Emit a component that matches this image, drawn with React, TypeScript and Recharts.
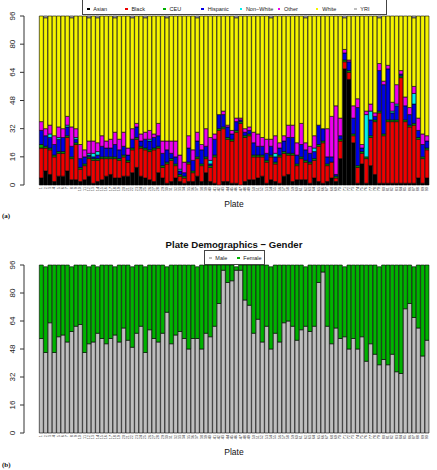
import React from 'react';
import { BarChart, Bar, XAxis, YAxis } from 'recharts';

// plate ids along the x axis
const plates = [
  '1', '2', '3', '4', '5', '6', '7', '8', '9', '10',
  '11', '12', '13', '14', '15', '16', '17', '18', '19', '20',
  '21', '22', '23', '24', '25', '26', '27', '28', '29', '30',
  '31', '32', '33', '34', '35', '36', '37', '38', '39', '40',
  '41', '42', '43', '44', '45', '46', '47', '48', '49', '50',
  '51', '52', '53', '54', '55', '56', '57', '58', '59', '60',
  '61', '62', '63', '64', '65', '66', '67', '68', '69', '70',
  '71', '72', '73', '74', '75', '76', '77', '78', '79', '80',
  '81', '82', '83', '84', '85', '86', '87', '88', '89', '90',
];

// samples per plate by reported ethnicity
const asian = [
  4, 8, 6, 2, 5, 5, 8, 3, 3, 2,
  3, 5, 1, 2, 3, 5, 6, 4, 4, 5,
  5, 7, 10, 5, 4, 3, 2, 7, 4, 1,
  2, 4, 2, 1, 2, 2, 5, 2, 7, 2,
  1, 0, 2, 2, 1, 1, 0, 2, 3, 3,
  4, 5, 1, 3, 2, 1, 5, 6, 2, 3,
  3, 3, 1, 4, 2, 1, 2, 4, 2, 15,
  66, 60, 24, 1, 12, 1, 11, 6, 1, 1,
  1, 1, 1, 1, 1, 1, 1, 4, 1, 4,
];
const black = [
  17, 13, 14, 14, 13, 13, 19, 12, 20, 7,
  8, 10, 13, 12, 12, 10, 9, 11, 10, 11,
  8, 13, 16, 16, 16, 16, 18, 14, 6, 11,
  12, 7, 3, 3, 10, 5, 10, 9, 8, 8,
  15, 31, 30, 24, 24, 29, 35, 25, 25, 13,
  12, 11, 12, 13, 10, 15, 13, 11, 15, 8,
  12, 10, 11, 10, 20, 23, 9, 9, 2, 10,
  4, 4, 4, 9, 6, 14, 16, 30, 40, 27,
  35, 35, 35, 60, 35, 32, 33, 22, 14, 16,
];
const ceu = [
  2, 1, 1, 1, 1, 1, 1, 1, 1, 1,
  1, 1, 1, 1, 1, 1, 1, 1, 1, 1,
  1, 1, 1, 1, 1, 1, 1, 1, 1, 1,
  1, 1, 1, 1, 1, 1, 1, 1, 1, 1,
  1, 1, 1, 1, 1, 1, 1, 1, 1, 1,
  1, 1, 1, 1, 1, 1, 1, 1, 1, 1,
  1, 1, 1, 1, 1, 1, 1, 0, 1, 1,
  1, 1, 1, 1, 1, 1, 1, 1, 1, 1,
  1, 1, 1, 1, 1, 1, 1, 1, 1, 1,
];
const hispanic = [
  8, 6, 6, 6, 7, 8, 5, 6, 2, 5,
  4, 1, 1, 2, 6, 5, 5, 7, 5, 5,
  3, 5, 6, 3, 5, 5, 6, 6, 7, 7,
  3, 4, 2, 2, 8, 6, 9, 8, 6, 1,
  9, 8, 7, 6, 3, 5, 1, 2, 2, 7,
  5, 5, 4, 5, 3, 4, 6, 9, 9, 5,
  7, 6, 5, 4, 11, 7, 4, 3, 1, 2,
  4, 5, 9, 33, 2, 0, 9, 2, 23, 28,
  29, 4, 8, 1, 8, 6, 11, 4, 7, 4,
];
const nonWhite = [
  0, 0, 2, 0, 1, 0, 1, 0, 1, 0,
  0, 1, 2, 2, 0, 0, 0, 0, 0, 0,
  0, 0, 0, 0, 0, 1, 0, 0, 0, 0,
  0, 0, 1, 0, 0, 0, 0, 0, 0, 2,
  0, 0, 0, 0, 0, 0, 0, 0, 0, 0,
  0, 0, 0, 0, 2, 0, 0, 0, 0, 0,
  0, 0, 0, 2, 0, 0, 0, 0, 0, 0,
  0, 0, 0, 0, 0, 24, 5, 0, 0, 0,
  0, 1, 1, 0, 0, 0, 6, 0, 0, 0,
];
const other = [
  5, 4, 5, 5, 6, 5, 5, 11, 5, 8,
  4, 7, 7, 5, 6, 4, 5, 7, 6, 8,
  4, 6, 2, 4, 4, 5, 2, 7, 7, 5,
  7, 9, 8, 6, 7, 6, 5, 3, 10, 13,
  3, 0, 2, 1, 2, 2, 1, 2, 2, 6,
  7, 5, 8, 4, 10, 3, 3, 7, 7, 7,
  12, 4, 4, 7, 0, 0, 16, 23, 39, 10,
  2, 1, 7, 5, 2, 2, 4, 2, 4, 2,
  2, 5, 11, 2, 5, 4, 4, 7, 6, 3,
];
const white = [
  60, 63, 62, 68, 63, 64, 57, 62, 64, 73,
  76, 70, 71, 71, 68, 71, 70, 65, 70, 66,
  75, 63, 61, 67, 65, 65, 67, 61, 71, 70,
  71, 71, 79, 83, 68, 76, 65, 73, 64, 69,
  67, 56, 54, 62, 65, 57, 58, 64, 63, 66,
  67, 69, 70, 69, 68, 72, 68, 62, 62, 72,
  61, 71, 74, 68, 62, 64, 64, 57, 51, 58,
  18, 25, 51, 47, 73, 54, 50, 55, 26, 37,
  28, 49, 39, 31, 46, 52, 39, 58, 67, 68,
];
const yri = [
  0, 1, 0, 0, 0, 0, 0, 1, 0, 0,
  0, 1, 0, 1, 0, 0, 0, 1, 0, 0,
  0, 1, 0, 0, 1, 0, 0, 0, 0, 1,
  0, 0, 0, 0, 0, 0, 1, 0, 0, 0,
  0, 0, 0, 0, 0, 1, 0, 0, 0, 0,
  0, 0, 0, 1, 0, 0, 0, 0, 0, 0,
  0, 1, 0, 0, 0, 0, 0, 0, 0, 0,
  1, 0, 0, 0, 0, 0, 0, 0, 1, 0,
  0, 0, 0, 0, 0, 0, 1, 0, 0, 0,
];

// samples per plate by gender
const male = [
  54, 46, 63, 46, 55, 56, 52, 58, 61, 62,
  46, 51, 52, 57, 54, 51, 54, 56, 52, 60,
  53, 49, 57, 61, 46, 59, 54, 52, 57, 69,
  51, 56, 58, 54, 48, 54, 54, 48, 57, 55,
  61, 74, 93, 86, 87, 93, 93, 76, 73, 57,
  65, 52, 61, 48, 57, 52, 63, 64, 61, 53,
  59, 61, 58, 61, 86, 92, 61, 51, 60, 54,
  55, 48, 54, 48, 55, 41, 51, 45, 39, 42,
  39, 45, 35, 34, 71, 74, 66, 60, 44, 53,
];
const female = [
  42, 49, 33, 50, 41, 40, 44, 37, 35, 34,
  50, 44, 44, 38, 42, 45, 42, 39, 44, 36,
  43, 46, 39, 35, 49, 37, 42, 44, 39, 26,
  45, 40, 38, 42, 48, 42, 41, 48, 39, 41,
  35, 22, 3, 10, 9, 2, 3, 20, 23, 39,
  31, 44, 35, 47, 39, 44, 33, 32, 35, 43,
  37, 34, 38, 35, 10, 4, 35, 45, 36, 42,
  40, 48, 42, 48, 41, 55, 45, 51, 56, 54,
  57, 51, 61, 62, 25, 22, 29, 36, 52, 43,
];

const yTicks = [0, 16, 32, 48, 64, 80, 96];

const ethnicSeries = [
  { key: 'Asian', label: 'Asian', color: '#000000' },
  { key: 'Black', label: 'Black', color: '#ee0000' },
  { key: 'CEU', label: 'CEU', color: '#00b000' },
  { key: 'Hispanic', label: 'Hispanic', color: '#0000e6' },
  { key: 'NonWhite', label: 'Non\u2212White', color: '#00eeee' },
  { key: 'Other', label: 'Other', color: '#ee00ee' },
  { key: 'White', label: 'White', color: '#f5f500' },
  { key: 'YRI', label: 'YRI', color: '#bebebe' },
];

const genderSeries = [
  { key: 'Male', label: 'Male', color: '#bebebe' },
  { key: 'Female', label: 'Female', color: '#00b300' },
];

const ethnicRows = plates.map((plate, i) => ({
  plate,
  Asian: asian[i],
  Black: black[i],
  CEU: ceu[i],
  Hispanic: hispanic[i],
  NonWhite: nonWhite[i],
  Other: other[i],
  White: white[i],
  YRI: yri[i],
}));

const genderRows = plates.map((plate, i) => ({
  plate,
  Male: male[i],
  Female: female[i],
}));

const FONT = '"Liberation Sans", Arial, Helvetica, sans-serif';
const SERIF = '"Liberation Serif", serif';

// y labels sit parallel to the axis, reading upwards
function YTick(props: any) {
  const { y, payload } = props;
  return (
    <text
      x={12.5}
      y={y}
      transform={`rotate(-90, 12.5, ${y})`}
      textAnchor="middle"
      dominantBaseline="central"
      fontSize={8}
      fontFamily={FONT}
      fill="#222"
    >
      {payload.value}
    </text>
  );
}

function PlateTick(props: any) {
  const { x, y, payload } = props;
  return (
    <text
      x={x}
      y={y}
      transform={`rotate(-90, ${x}, ${y})`}
      textAnchor="end"
      dominantBaseline="central"
      fontSize={3.8}
      fontFamily={FONT}
      fill="#444"
    >
      {payload.value}
    </text>
  );
}

function PlateChart({
  rows,
  series,
  height,
  top,
  bottom,
}: {
  rows: any[];
  series: { key: string; color: string }[];
  height: number;
  top: number;
  bottom: number;
}) {
  return (
    <BarChart
      width={437}
      height={height}
      data={rows}
      margin={{ top, right: 8, bottom, left: 0 }}
      barCategoryGap={0.3}
    >
      <XAxis
        dataKey="plate"
        interval={0}
        axisLine={false}
        tickLine={false}
        tickSize={0}
        tickMargin={2}
        height={12}
        padding={{ left: 15, right: 0 }}
        tick={<PlateTick />}
      />
      <YAxis
        type="number"
        domain={[0, 96]}
        ticks={yTicks}
        width={24}
        tickSize={4}
        stroke="#333"
        tick={<YTick />}
      />
      {series.map((s) => (
        <Bar
          key={s.key}
          dataKey={s.key}
          stackId="plate"
          fill={s.color}
          stroke="#000"
          strokeWidth={0.6}
          isAnimationActive={false}
        />
      ))}
    </BarChart>
  );
}

function LegendBox({
  items,
  left,
  top,
  width,
  height,
  first,
  step,
  textY,
}: {
  items: { label: string; color: string }[];
  left: number;
  top: number;
  width: number;
  height: number;
  first: number;
  step: number;
  textY: number;
}) {
  return (
    <div
      style={{
        position: 'absolute',
        left,
        top,
        width,
        height,
        border: '1px solid #444',
        boxSizing: 'border-box',
        background: '#fff',
      }}
    >
      {items.map((it, i) => (
        <React.Fragment key={it.label}>
          <div
            style={{
              position: 'absolute',
              left: first + step * i - 1.3,
              top: textY - 1.3,
              width: 2.6,
              height: 2.6,
              background: it.color,
            }}
          />
          <div
            style={{
              position: 'absolute',
              left: first + step * i + 5,
              top: textY - 4,
              fontSize: 5.5,
              lineHeight: '8px',
              fontFamily: FONT,
              color: '#222',
              whiteSpace: 'nowrap',
            }}
          >
            {it.label}
          </div>
        </React.Fragment>
      ))}
    </div>
  );
}

// centred caption at (x, y)
const caption = (x: number, y: number, size: number, bold = false): React.CSSProperties => ({
  position: 'absolute',
  left: x,
  top: y,
  fontSize: size,
  fontWeight: bold ? 'bold' : 'normal',
  fontFamily: FONT,
  color: '#111',
  whiteSpace: 'nowrap',
  transform: 'translate(-50%, -50%)',
});

const panelTag = (y: number): React.CSSProperties => ({
  position: 'absolute',
  left: 2,
  top: y,
  fontSize: 7,
  fontWeight: 'bold',
  fontFamily: SERIF,
  color: '#111',
});

export default function App() {
  return (
    <div
      style={{
        position: 'absolute',
        left: 0,
        top: 0,
        width: 437,
        height: 470,
        background: '#fff',
        overflow: 'hidden',
        fontFamily: FONT,
      }}
    >
      <div style={{ position: 'absolute', left: 0, top: 0 }}>
        <PlateChart rows={ethnicRows} series={ethnicSeries} height={220} top={16} bottom={23} />
      </div>
      <LegendBox
        items={ethnicSeries}
        left={82}
        top={-2}
        width={305}
        height={17}
        first={5.3}
        step={38.15}
        textY={10}
      />
      <div style={caption(234, 203.5, 8.5)}>Plate</div>
      <div style={panelTag(212)}>(a)</div>

      <div style={caption(234, 243.5, 9.6, true)}>Plate Demographics {'\u2212'} Gender</div>
      <div style={{ position: 'absolute', left: 0, top: 220 }}>
        <PlateChart rows={genderRows} series={genderSeries} height={250} top={45} bottom={25} />
      </div>
      <LegendBox
        items={genderSeries}
        left={204}
        top={250}
        width={61}
        height={15}
        first={5.3}
        step={28}
        textY={7}
      />
      <div style={caption(234, 452, 8.5)}>Plate</div>
      <div style={panelTag(461)}>(b)</div>
    </div>
  );
}
